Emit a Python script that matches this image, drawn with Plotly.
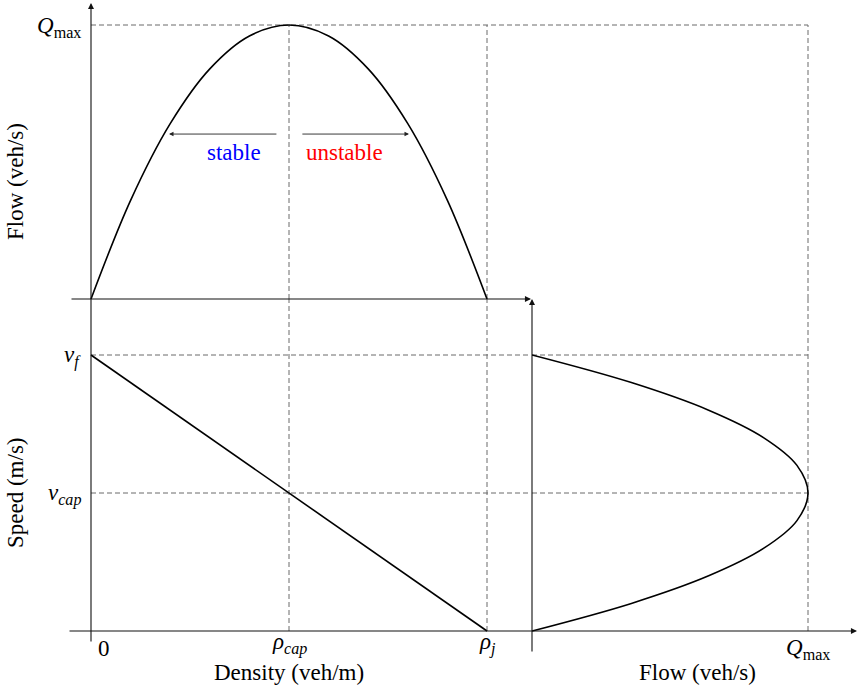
import plotly.graph_objects as go

W, H = 857, 687

# Fundamental diagram values in normalised units (rho_j = 1, Q_max = 1, v_f = 1)
density = [0.0, 0.1, 0.2, 0.3, 0.4, 0.5, 0.6, 0.7, 0.8, 0.9, 1.0]
flow = [0.0, 0.36, 0.64, 0.84, 0.96, 1.0, 0.96, 0.84, 0.64, 0.36, 0.0]
speed = [1.0, 0.9, 0.8, 0.7, 0.6, 0.5, 0.4, 0.3, 0.2, 0.1, 0.0]
line_density = [0.0, 1.0]
line_speed = [1.0, 0.0]

rho_cap, rho_j = 0.5, 1.0
q_max = 1.0
v_f, v_cap = 1.0, 0.5

FONT = "Liberation Serif, Times New Roman, serif"
FS = 23
AXIS_COLOR = "#111111"
DASH_COLOR = "#6a6a6a"


def fx(px):
    return px / W


def fy(py):
    return 1 - py / H


# axis geometry (pixels)
X0_PX, XRJ_PX = 91, 487          # density 0 and rho_j
Y0_TOP, YQ_TOP = 299, 25         # flow 0 and Q_max (top panel)
Y0_BOT, YVF_BOT = 631, 355       # speed 0 and v_f
X0_R, XQ_R = 532, 808            # flow 0 and Q_max (right panel)

sx = (XRJ_PX - X0_PX)
sy_top = (Y0_TOP - YQ_TOP)
sy_bot = (Y0_BOT - YVF_BOT)
sx_r = (XQ_R - X0_R)

x_dom = [fx(70), fx(531)]
x_rng = [-(X0_PX - 70) / sx, (531 - X0_PX) / sx]
y_dom = [fy(Y0_TOP), fy(3)]
y_rng = [0, (Y0_TOP - 3) / sy_top]
y2_dom = [fy(655), fy(299)]
y2_rng = [-(655 - Y0_BOT) / sy_bot, (Y0_BOT - 299) / sy_bot]
x3_dom = [fx(X0_R), fx(857)]
x3_rng = [0, (857 - X0_R) / sx_r]

fig = go.Figure()

curve = dict(color="black", width=1.6)
fig.add_trace(go.Scatter(x=density, y=flow, mode="lines", line=dict(shape="spline", **curve),
                         xaxis="x", yaxis="y", hoverinfo="skip"))
fig.add_trace(go.Scatter(x=line_density, y=line_speed, mode="lines", line=curve,
                         xaxis="x", yaxis="y2", hoverinfo="skip"))
fig.add_trace(go.Scatter(x=flow, y=speed, mode="lines", line=dict(shape="spline", **curve),
                         xaxis="x3", yaxis="y2", hoverinfo="skip"))
# empty trace so the (x3, y) panel exists for the guide lines
fig.add_trace(go.Scatter(x=[None], y=[None], mode="lines", xaxis="x3", yaxis="y", hoverinfo="skip"))

dash = dict(color=DASH_COLOR, width=1, dash="5px,3px")


def guide(xref, yref, x0, y0, x1, y1):
    fig.add_shape(type="line", xref=xref, yref=yref, x0=x0, y0=y0, x1=x1, y1=y1,
                  line=dash, layer="below")


# top-left panel
guide("x", "y", 0, q_max, x_rng[1], q_max)
guide("x", "y", rho_cap, 0, rho_cap, q_max)
guide("x", "y", rho_j, 0, rho_j, q_max)
# top-right panel
guide("x3", "y", 0, q_max, q_max, q_max)
guide("x3", "y", q_max, 0, q_max, q_max)
# bottom-left panel
guide("x", "y2", rho_cap, 0, rho_cap, y2_rng[1])
guide("x", "y2", rho_j, 0, rho_j, y2_rng[1])
guide("x", "y2", 0, v_f, x_rng[1], v_f)
guide("x", "y2", 0, v_cap, x_rng[1], v_cap)
# bottom-right panel
guide("x3", "y2", 0, v_f, q_max, v_f)
guide("x3", "y2", 0, v_cap, q_max, v_cap)
guide("x3", "y2", q_max, 0, q_max, y2_rng[1])

ann = []


def axis_arrow(xref, x, yref, y, ax, ay):
    ann.append(dict(xref=xref, x=x, yref=yref, y=y, ax=ax, ay=ay, axref="pixel", ayref="pixel",
                    showarrow=True, arrowhead=2, arrowsize=1.1, arrowwidth=1.1,
                    arrowcolor=AXIS_COLOR, standoff=0, text=""))


axis_arrow("x", 0, "y domain", 1, 0, 643 - 3)              # left vertical axis
axis_arrow("x domain", 1, "y", 0, -(531 - 70), 0)          # density axis (top panel)
axis_arrow("x3", 0, "y2 domain", 1, 0, 653 - 299)          # right vertical axis
axis_arrow("x3 domain", 1, "y2", 0, -(857 - 68), 0)        # bottom axis

# stable / unstable arrows
for x_head, x_tail in [(0.197, 0.472), (0.803, 0.530)]:
    ann.append(dict(xref="x", yref="y", x=x_head, y=0.602, ax=x_tail, ay=0.602,
                    axref="x", ayref="y", showarrow=True, arrowhead=2, arrowsize=1.0,
                    arrowwidth=0.9, arrowcolor="#222222", standoff=0, text=""))


def label(text, xref, x, yref, y, xanchor="center", yanchor="middle", xshift=0, yshift=0,
          color="black", size=FS, textangle=0):
    ann.append(dict(text=text, xref=xref, x=x, yref=yref, y=y, xanchor=xanchor, yanchor=yanchor,
                    xshift=xshift, yshift=yshift, showarrow=False, textangle=textangle,
                    font=dict(family=FONT, size=size, color=color)))


label("stable", "x", 0.361, "y", 0.533, color="#0000ff")
label("unstable", "x", 0.641, "y", 0.533, color="#ff0000")

# tick labels
label("0", "x", 0, "y2", 0, xanchor="left", xshift=5, yshift=-17)
label("<i>ρ</i><sub><i>cap</i></sub>", "x", rho_cap, "y2", 0, yshift=-12)
label("<i>ρ</i><sub><i>j</i></sub>", "x", rho_j, "y2", 0, yshift=-12)
label("<i>Q</i><sub>max</sub>", "x3", q_max, "y2", 0, yshift=-18)
label("<i>Q</i><sub>max</sub>", "x", 0, "y", q_max, xanchor="right", xshift=-8, yshift=-2)
label("<i>v</i><sub><i>f</i></sub>", "x", 0, "y2", v_f, xanchor="right", xshift=-8, yshift=-1)
label("<i>v</i><sub><i>cap</i></sub>", "x", 0, "y2", v_cap, xanchor="right", xshift=-8, yshift=-1)

# axis titles
label("Density (veh/m)", "x", rho_cap, "y2", 0, yshift=-41)
label("Flow (veh/s)", "paper", fx(697), "y2", 0, yshift=-41)
label("Flow (veh/s)", "paper", fx(15), "paper", fy(182), textangle=-90)
label("Speed (m/s)", "paper", fx(15), "paper", fy(493), textangle=-90)

hidden = dict(visible=False, showgrid=False, zeroline=False, fixedrange=True)
fig.update_layout(
    width=W, height=H,
    margin=dict(l=0, r=0, t=0, b=0),
    paper_bgcolor="white", plot_bgcolor="rgba(0,0,0,0)",
    showlegend=False,
    xaxis=dict(domain=x_dom, range=x_rng, anchor="y2", **hidden),
    yaxis=dict(domain=y_dom, range=y_rng, anchor="x", **hidden),
    yaxis2=dict(domain=y2_dom, range=y2_rng, anchor="x", **hidden),
    xaxis3=dict(domain=x3_dom, range=x3_rng, anchor="y2", **hidden),
    annotations=ann,
    font=dict(family=FONT, size=FS, color="black"),
)

fig.write_html("out.html", config={"displayModeBar": False})
